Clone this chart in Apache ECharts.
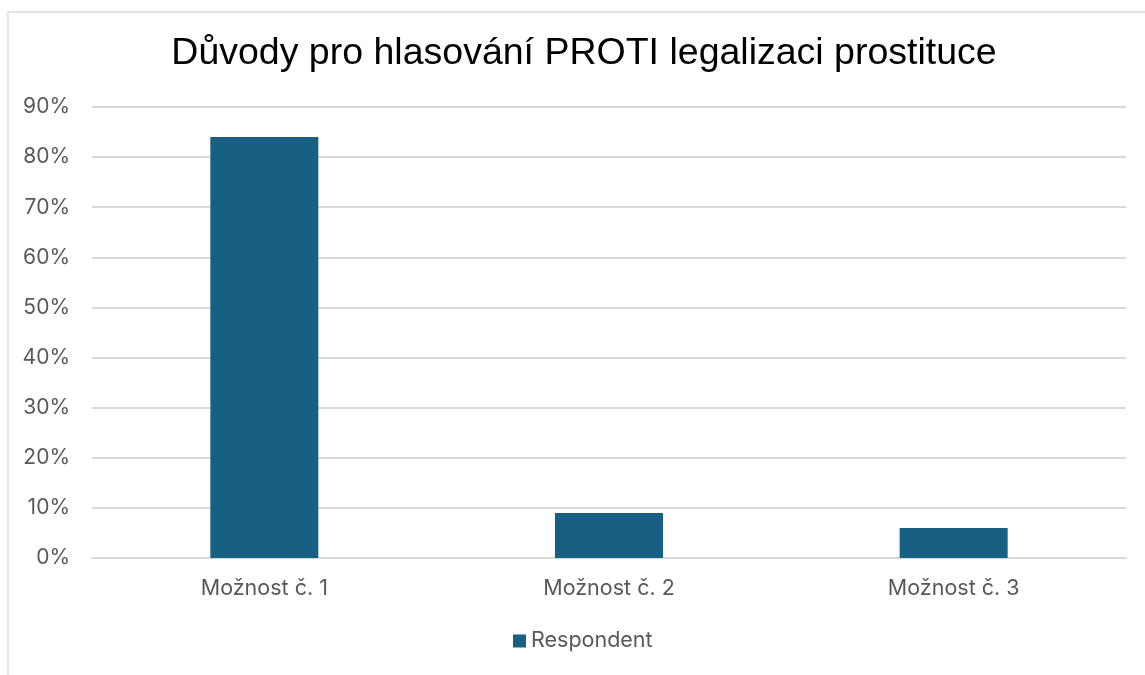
<!DOCTYPE html>
<html>
<head>
<meta charset="utf-8">
<script src="https://cdn.jsdelivr.net/npm/echarts@6/dist/echarts.min.js"></script>
<style>
	html, body { margin: 0; padding: 0; background: #fff; }
	#frame {
		position: absolute; left: 7px; top: 11px; width: 1160px; height: 690px;
		border-left: 2px solid #e3e3e3; border-top: 2px solid #e3e3e3;
	}
	#chart { position: absolute; left: 0; top: 0; width: 1145px; height: 675px; }
</style>
</head>
<body>
<div id="frame"></div>
<div id="chart"></div>
<script>
	var categories = ['Možnost č. 1', 'Možnost č. 2', 'Možnost č. 3'];
	var respondent = [84, 9, 6];
	var seriesName = 'Respondent';
	var titleText = 'Důvody pro hlasování PROTI legalizaci prostituce';

	var labelFont = 'Inter, "Open Sans", sans-serif';

	var chart = echarts.init(document.getElementById('chart'));
	chart.setOption({
		animation: false,
		title: {
			text: titleText,
			left: 579,
			top: 30,
			textAlign: 'center',
			textStyle: {
				fontFamily: '"Liberation Sans", Arial, sans-serif',
				fontSize: 37.5,
				fontWeight: 'normal',
				color: '#000'
			}
		},
		legend: {
			data: [seriesName],
			bottom: 18,
			left: 508,
			icon: 'rect',
			itemWidth: 13,
			itemHeight: 13,
			itemGap: 8,
			textStyle: {
				fontFamily: labelFont,
				fontSize: 21.5,
				color: '#595959'
			}
		},
		grid: {
			left: 92,
			right: 19,
			top: 107,
			bottom: 117,
			containLabel: false
		},
		xAxis: {
			type: 'category',
			data: categories,
			axisLine: { lineStyle: { color: '#d9d9d9', width: 2 } },
			axisTick: { show: false },
			axisLabel: {
				margin: 20,
				fontFamily: labelFont,
				fontSize: 21.5,
				color: '#595959'
			}
		},
		yAxis: {
			type: 'value',
			min: 0,
			max: 90,
			interval: 10,
			axisLine: { show: false },
			axisTick: { show: false },
			splitLine: { lineStyle: { color: '#d9d9d9', width: 2 } },
			axisLabel: {
				formatter: '{value}%',
				margin: 22,
				fontFamily: labelFont,
				fontSize: 21,
				color: '#595959'
			}
		},
		series: [
			{
				name: seriesName,
				type: 'bar',
				data: respondent,
				barWidth: 108,
				itemStyle: { color: '#176083' }
			}
		]
	});
</script>
</body>
</html>
